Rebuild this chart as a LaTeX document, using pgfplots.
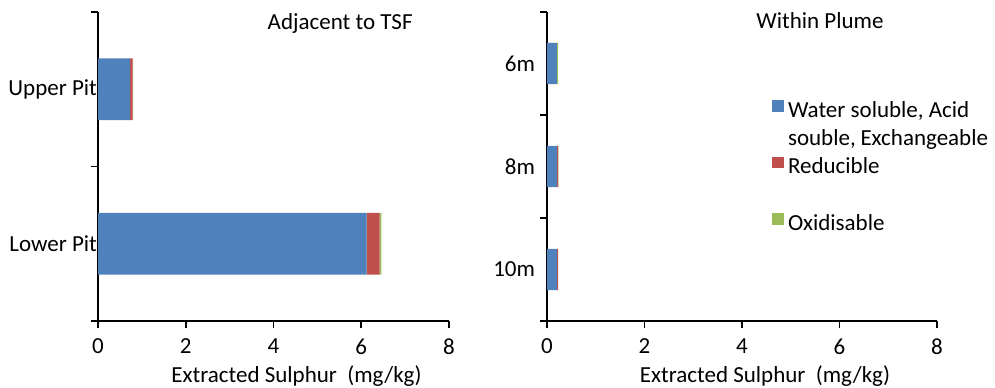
\documentclass[border=0pt]{standalone}
\usepackage{pgfplots}
\pgfplotsset{compat=1.18}
\usepackage{fontspec}
\setmainfont{Carlito}
\definecolor{sblue}{HTML}{4F81BD}
\definecolor{sred}{HTML}{C0504D}
\definecolor{sgreen}{HTML}{9BBB59}
\pgfplotsset{
  myax/.style={
    scale only axis,
    xbar stacked,
    bar width=0.4,
    xmin=0, xmax=8,
    xtick={0,2,4,6,8},
    axis lines=left,
    axis line style={-, line width=0.9pt, black},
    tick align=outside,
    major tick length=3.5pt,
    every tick/.style={black, line width=0.9pt},
    /pgf/number format/assume math mode=true,
    xticklabel style={yshift=-1.5pt},
    xlabel={Extracted Sulphur\ \ (mg/kg)},
    xlabel style={xshift=11.5pt, yshift=2.5pt},
    extra y tick style={major tick length=0pt, tick style={draw=none}},
    yticklabels={},
    clip=false,
  },
}
\begin{document}
\fontsize{11.5pt}{14pt}\selectfont
\begin{tikzpicture}
\begin{axis}[myax,
  name=left,
  at={(0pt,0pt)}, anchor=origin,
  width=175.5pt, height=154.5pt,
  ymin=0.5, ymax=2.5,
  ytick={0.5,1.5,2.5},
  extra y ticks={1,2},
  extra y tick labels={Lower Pit,Upper Pit},
  extra y tick style={yticklabel style={xshift=3.5pt}},
]
\addplot[fill=sblue, draw=none] coordinates {(6.12,1) (0.73,2)};
\addplot[fill=sred, draw=none] coordinates {(0.30,1) (0.06,2)};
\addplot[fill=sgreen, draw=none] coordinates {(0.04,1) (0.01,2)};
\node[anchor=base] at (rel axis cs:0.69,0.945) {Adjacent to TSF};
\end{axis}
\begin{axis}[myax,
  at={(224.5pt,0pt)}, anchor=origin,
  width=195pt, height=154.5pt,
  ymin=0.5, ymax=3.5,
  ytick={0.5,1.5,2.5,3.5},
  extra y ticks={1,2,3},
  extra y tick labels={10m,8m,6m},
  extra y tick style={yticklabel style={xshift=-2pt}},
  legend cell align=left,
  legend style={draw=none, fill=none, at={(rel axis cs:0.577,0.716)}, anchor=north west,
    row sep=19.7pt, inner sep=0pt,
    nodes={inner ysep=0pt, inner xsep=2pt, text height=8pt, text depth=0pt}},
  legend image code/.code={\fill[#1] (0pt,-1.2pt) rectangle (5.8pt,4.6pt);},
]
\addplot[fill=sblue, draw=none] coordinates {(0.20,1) (0.20,2) (0.20,3)};
\addplot[fill=sred, draw=none] coordinates {(0.03,1) (0.03,2) (0.00,3)};
\addplot[fill=sgreen, draw=none] coordinates {(0.00,1) (0.005,2) (0.03,3)};
\legend{\parbox[t]{100pt}{Water soluble, Acid\\souble, Exchangeable},Reducible,Oxidisable}
\node[anchor=base] at (rel axis cs:0.70,0.945) {Within Plume};
\end{axis}
\pgfresetboundingbox
\path[use as bounding box] (-49pt,-33pt) rectangle (448.5pt,160.5pt);
\end{tikzpicture}
\end{document}
